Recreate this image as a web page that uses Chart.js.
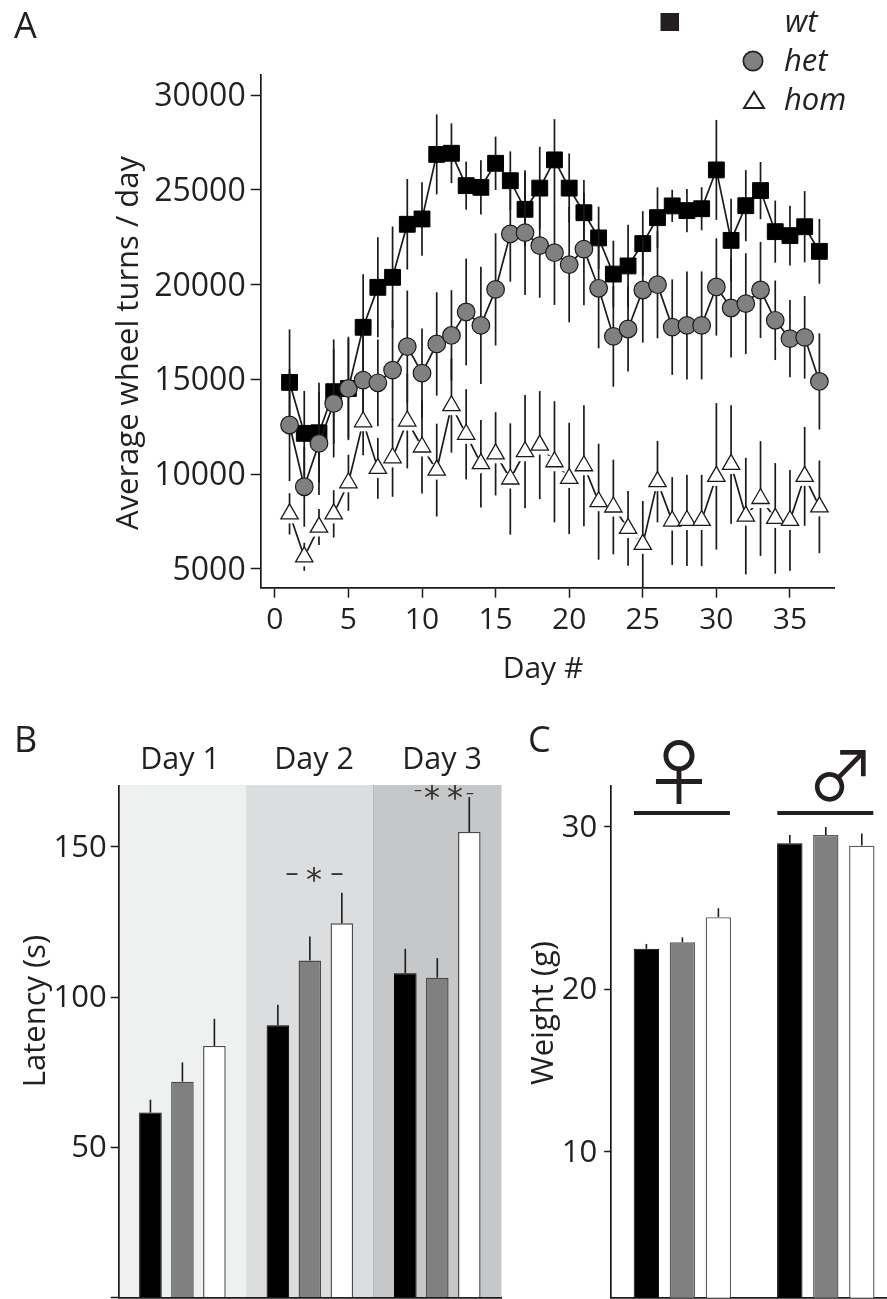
<!DOCTYPE html>
<html>
<head>
<meta charset="utf-8">
<title>Wheel running, latency and weight</title>
<script src="https://cdn.jsdelivr.net/npm/chart.js@4/dist/chart.umd.js"></script>
<style>
html,body{margin:0;padding:0;background:#fff;width:887px;height:1299px;overflow:hidden}
canvas{position:absolute;display:block}
</style>
</head>
<body>
<canvas id="a" width="887" height="690" style="left:0;top:0"></canvas>
<canvas id="b" width="510" height="599" style="left:0;top:700px"></canvas>
<canvas id="c" width="400" height="599" style="left:500px;top:700px"></canvas>
<script>
// ---------- DATA ----------
const days = [1,2,3,4,5,6,7,8,9,10,11,12,13,14,15,16,17,18,19,20,21,22,23,24,25,26,27,28,29,30,31,32,33,34,35,36,37];
const wheelTicks = [5000,10000,15000,20000,25000,30000];
const wtValues = [14840,12150,12180,14350,14520,17750,19860,20390,23190,23470,26880,26940,25230,25140,26410,25490,23980,25100,26590,25100,23800,22470,20560,20990,22170,23540,24160,23910,24010,26060,22340,24170,24970,22800,22590,23060,21760];
const wtErrors = [2800,2240,2640,2760,2730,2800,2640,2680,2390,1940,2110,1580,1270,1430,1410,1550,1940,2180,2150,1830,1730,1650,1760,2180,1710,1600,850,1140,1140,2640,2200,1880,1510,1640,1580,1880,1710];
const hetValues = [12590,9330,11620,13730,14520,14960,14820,15490,16730,15330,16870,17320,18560,17850,19750,22680,22750,22060,21690,21060,21880,19810,17270,17660,19720,20000,17760,17850,17850,19880,18770,19000,19720,18120,17150,17220,14890];
const hetErrors = [2960,2110,2730,2850,2640,2640,2290,2640,2960,2360,2730,2390,2820,3100,2960,2520,3290,2750,2760,3050,2960,3170,2660,2250,2780,2830,2520,2850,2850,2570,2620,2660,2540,2100,2040,2180,2540];
const homValues = [7900,5630,7200,7900,9540,12760,10300,10860,12800,11430,10210,13610,12100,10550,11070,9740,11180,11530,10650,9770,10440,8540,8260,7130,6290,9600,7520,7550,7550,9880,10510,7780,8710,7660,7550,9880,8270];
const homErrors = [1090,740,950,1250,1480,1760,1600,2060,2500,2450,2450,2480,2380,2310,2200,2940,2990,2850,3200,2940,3190,3060,2500,1970,2290,2150,2320,2410,2410,3870,3130,3080,3030,2920,2660,2610,2450];

const latencyDays = ['Day 1','Day 2','Day 3'];
const latencyWt = [61.6,90.7,108];
const latencyWtErr = [4.3,6.8,8.1];
const latencyHet = [71.9,112.2,106.5];
const latencyHetErr = [6.4,8.0,6.5];
const latencyHom = [83.8,124.6,155];
const latencyHomErr = [9.0,10.2,11.6];

const sexes = ['♀','♂'];
const weightWt = [22.5,29.0];
const weightWtErr = [0.3,0.5];
const weightHet = [22.9,29.5];
const weightHetErr = [0.3,0.5];
const weightHom = [24.45,28.85];
const weightHomErr = [0.55,0.75];

// ---------- STYLE ----------
const FONT = '"Open Sans", sans-serif';
const INK = '#231f20';
const LINE = '#1a1a1a';
const GREY = '#808080';

function pin(size, horizontal){
  return s => {
    if (horizontal) s.height = size; else s.width = size;
    s.paddingTop = s.paddingBottom = s.paddingLeft = s.paddingRight = 0;
  };
}
function text(ctx, str, x, y, font, align, color){
  ctx.save();
  ctx.font = font; ctx.fillStyle = color || INK;
  ctx.textAlign = align || 'left'; ctx.textBaseline = 'alphabetic';
  ctx.fillText(str, x, y);
  ctx.restore();
}
function vtext(ctx, str, x, y, font){
  ctx.save();
  ctx.translate(x, y); ctx.rotate(-Math.PI/2);
  text(ctx, str, 0, 0, font, 'center');
  ctx.restore();
}
function vline(ctx, x, y0, y1, w){
  ctx.save();
  ctx.strokeStyle = LINE; ctx.lineWidth = w || 1.7;
  ctx.beginPath(); ctx.moveTo(x, y0); ctx.lineTo(x, y1); ctx.stroke();
  ctx.restore();
}
function axisStyle(tickLength, pad, size, stepSize){
  return {
    grid:{drawOnChartArea:false, drawTicks:true, tickLength:tickLength, tickColor:LINE, tickWidth:1.5},
    border:{display:true, color:LINE, width:1.7},
    ticks:{color:INK, font:{family:'Open Sans', size:size}, padding:pad, stepSize:stepSize, includeBounds:false, autoSkip:false, maxRotation:0, callback:v => String(v)}
  };
}
// Nudges the y axis tick labels down to sit level with their tick marks.
function nudgeYLabels(dy){
  return {
    id:'nudgeYLabels',
    afterLayout(chart){
      const s = chart.scales.y;
      if (s._nudged) return;
      s._nudged = true;
      const draw = s.drawLabels;
      s.drawLabels = function(area){
        const ctx = this.ctx;
        ctx.save(); ctx.translate(0, dy);
        draw.call(this, area);
        ctx.restore();
      };
    }
  };
}

// ---------- PANEL A ----------
const panelA = {
  id:'panelA',
  beforeDatasetDraw(chart, args){
    const ds = chart.data.datasets[args.index];
    if (ds.label !== 'wt' && ds.label !== 'het') return;
    const y = chart.scales.y, errs = ds.label === 'wt' ? wtErrors : hetErrors, ctx = chart.ctx;
    args.meta.data.forEach((p,i) => {
      vline(ctx, p.x, y.getPixelForValue(ds.data[i]+errs[i]), y.getPixelForValue(ds.data[i]-errs[i]));
    });
  },
  afterDatasetDraw(chart, args){
    const ds = chart.data.datasets[args.index];
    if (ds.label !== 'hom' || ds.showLine === false) return;
    const y = chart.scales.y, ctx = chart.ctx;
    // white break around each open triangle, then its error bar
    args.meta.data.forEach(p => {
      ctx.save(); ctx.fillStyle = '#fff';
      ctx.fillRect(p.x-10.5, p.y-6, 21, 15.5);
      ctx.restore();
    });
    args.meta.data.forEach((p,i) => {
      vline(ctx, p.x, y.getPixelForValue(ds.data[i]+homErrors[i]), p.y);
      vline(ctx, p.x, p.y+9.5, y.getPixelForValue(ds.data[i]-homErrors[i]));
    });
  },
  afterDraw(chart){
    const ctx = chart.ctx;
    text(ctx, 'A', 14, 38, '36px '+FONT);
    vtext(ctx, 'Average wheel turns / day', 138, 343, '31px '+FONT);
    text(ctx, 'Day #', 543, 678, '30px '+FONT, 'center');
    // legend
    const lf = 'italic 31px '+FONT;
    ctx.save();
    ctx.fillStyle = INK; ctx.fillRect(660.5, 13, 18.5, 18);
    ctx.fillStyle = GREY; ctx.strokeStyle = INK; ctx.lineWidth = 1.7;
    ctx.beginPath(); ctx.arc(753, 61, 9.7, 0, Math.PI*2); ctx.fill(); ctx.stroke();
    ctx.fillStyle = '#fff'; ctx.lineWidth = 2;
    ctx.beginPath(); ctx.moveTo(754, 92); ctx.lineTo(764, 108); ctx.lineTo(744, 108); ctx.closePath(); ctx.fill(); ctx.stroke();
    ctx.restore();
    text(ctx, 'wt', 785, 32, lf);
    text(ctx, 'het', 784, 71, lf);
    text(ctx, 'hom', 784, 110, lf);
  }
};
new Chart(document.getElementById('a'), {
  type:'line',
  data:{
    labels:days,
    datasets:[
      {label:'hom', data:homValues, showLine:false, order:0, pointStyle:'triangle', pointRadius:10, pointBackgroundColor:'#fff', pointBorderColor:LINE, pointBorderWidth:1.3},
      {label:'hom', data:homValues, order:1, borderColor:LINE, borderWidth:1.7, pointRadius:0, tension:0},
      {label:'het', data:hetValues, order:2, borderColor:LINE, borderWidth:1.7, pointStyle:'circle', pointRadius:8.8, pointBackgroundColor:GREY, pointBorderColor:LINE, pointBorderWidth:1.2, tension:0},
      {label:'wt', data:wtValues, order:3, borderColor:LINE, borderWidth:1.7, pointStyle:'rect', pointRadius:11.2, pointBackgroundColor:'#000', pointBorderColor:'#000', pointBorderWidth:1, tension:0}
    ]
  },
  options:{
    responsive:false, animation:false, events:[],
    layout:{padding:{top:75, right:52.3, left:0, bottom:0}},
    plugins:{legend:{display:false}, tooltip:{enabled:false}},
    scales:{
      x:Object.assign(axisStyle(10, 5, 30, 5), {type:'linear', min:-0.96, max:38.04, afterFit:pin(102.3,true)}),
      y:Object.assign(axisStyle(10, 5, 32, 5000), {min:4000, max:31072, afterFit:pin(260.7,false),
        afterBuildTicks:s => { s.ticks = wheelTicks.map(value => ({value})); }})
    }
  },
  plugins:[panelA, nudgeYLabels(2)]
});

// ---------- BAR PANELS ----------
function barErrorPlugin(errs){
  return {
    id:'barErrors',
    afterDatasetDraw(chart, args){
      const ds = chart.data.datasets[args.index], y = chart.scales.y, ctx = chart.ctx;
      const e = errs[args.index];
      args.meta.data.forEach((bar,i) => {
        vline(ctx, bar.x, y.getPixelForValue(ds.data[i]+e[i]), y.getPixelForValue(ds.data[i]), 1.6);
      });
    }
  };
}
function barDatasets(a, b, c, border){
  return [
    {label:'wt', data:a, backgroundColor:'#000', borderColor:'#000', borderWidth:1, categoryPercentage:0.753, barPercentage:0.706},
    {label:'het', data:b, backgroundColor:GREY, borderColor:border, borderWidth:1.4, categoryPercentage:0.753, barPercentage:0.706},
    {label:'hom', data:c, backgroundColor:'#fff', borderColor:border, borderWidth:1.4, categoryPercentage:0.753, barPercentage:0.706}
  ];
}

// ---------- PANEL B ----------
const panelB = {
  id:'panelB',
  beforeDraw(chart){
    const ctx = chart.ctx, a = chart.chartArea;
    const w = (a.right-a.left)/3, shades = ['#eff0f0','#dcddde','#c6c7c9'];
    shades.forEach((c,i) => { ctx.fillStyle = c; ctx.fillRect(a.left+i*w, a.top-0.7, w+0.5, a.bottom-a.top); });
    ctx.fillStyle = '#b6b7b9'; ctx.fillRect(a.left+2*w-0.5, a.top-0.7, 1, a.bottom-a.top);
  },
  afterDraw(chart){
    const ctx = chart.ctx;
    text(ctx, 'B', 14, 52, '36px '+FONT);
    vtext(ctx, 'Latency (s)', 45, 311, '31px '+FONT);
    const cx = [180, 314, 442];
    latencyDays.forEach((d,i) => text(ctx, d, cx[i], 69, '30.5px '+FONT, 'center'));
    const dark = '#333';
    const star = '32px "DejaVu Sans"';
    text(ctx, '–', 292, 181, '26px '+FONT, 'center', dark);
    text(ctx, '*', 314, 190, star, 'center', dark);
    text(ctx, '–', 337, 181, '26px '+FONT, 'center', dark);
    text(ctx, '–', 418, 95, '16px '+FONT, 'center', dark);
    text(ctx, '*', 432, 108, star, 'center', dark);
    text(ctx, '*', 455, 108, star, 'center', dark);
    text(ctx, '–', 470, 98, '16px '+FONT, 'center', dark);
  }
};
const axisB = axisStyle(8, 4, 31, 50);
axisB.ticks.callback = v => v === 0 ? '' : String(v);
new Chart(document.getElementById('b'), {
  type:'bar',
  data:{labels:latencyDays, datasets:barDatasets(latencyWt, latencyHet, latencyHom, '#4a4a4a')},
  options:{
    responsive:false, animation:false, events:[],
    layout:{padding:{top:85.7, right:9, left:0, bottom:0}},
    plugins:{legend:{display:false}, tooltip:{enabled:false}},
    scales:{
      x:{grid:{display:false}, border:{display:true, color:LINE, width:1.7}, ticks:{display:false}, afterFit:pin(1.3,true)},
      y:Object.assign(axisB, {min:0, max:170.4, afterFit:pin(118.7,false)})
    }
  },
  plugins:[panelB, barErrorPlugin([latencyWtErr, latencyHetErr, latencyHomErr]), nudgeYLabels(1)]
});

// ---------- PANEL C ----------
const panelC = {
  id:'panelC',
  afterDraw(chart){
    const ctx = chart.ctx;
    text(ctx, 'C', 28, 52, '36px '+FONT);
    vtext(ctx, 'Weight (g)', 53, 313, '31px '+FONT);
    text(ctx, sexes[0], 179, 99, '72px "Noto Sans CJK SC"', 'center');
    text(ctx, sexes[1], 341, 100.6, '68px "Noto Sans CJK SC"', 'center');
    ctx.save(); ctx.fillStyle = INK;
    const m0 = chart.getDatasetMeta(0).data, m2 = chart.getDatasetMeta(2).data;
    sexes.forEach((s,i) => {
      ctx.fillRect(m0[i].x-12.5, 111, (m2[i].x-m0[i].x)+24, 4);
    });
    ctx.restore();
  }
};
new Chart(document.getElementById('c'), {
  type:'bar',
  data:{labels:sexes, datasets:barDatasets(weightWt, weightHet, weightHom, '#5a5a5a')},
  options:{
    responsive:false, animation:false, events:[],
    layout:{padding:{top:86, right:2.5, left:0, bottom:0}},
    plugins:{legend:{display:false}, tooltip:{enabled:false}},
    scales:{
      x:{grid:{display:false}, border:{display:true, color:LINE, width:1.7}, ticks:{display:false}, afterFit:pin(1.3,true)},
      y:Object.assign(axisStyle(6.5, 7, 31, 10), {min:1.03, max:32.52, afterFit:pin(110.7,false)})
    }
  },
  plugins:[panelC, barErrorPlugin([weightWtErr, weightHetErr, weightHomErr]), nudgeYLabels(1)]
});
</script>
</body>
</html>
